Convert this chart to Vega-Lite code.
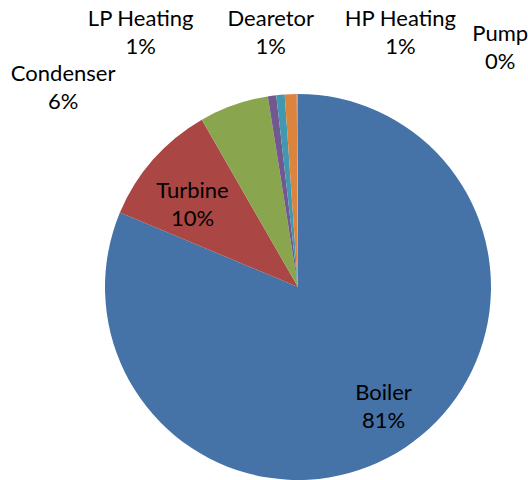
{
  "$schema": "https://vega.github.io/schema/vega-lite/v6.json",
  "width": 460,
  "height": 386,
  "autosize": "none",
  "padding": {"left": 68, "top": 94, "right": 0, "bottom": 0},
  "background": "white",
  "config": {"view": {"stroke": null}, "text": {"font": "Lato", "fontSize": 22, "lineBreak": "\n", "lineHeight": 28, "align": "center", "baseline": "middle", "color": "#000000"}},
  "data": {
    "values": [
      {"category": "Boiler", "share": 81.3, "seriesOrder": 1, "label": "Boiler\n81%"},
      {"category": "Turbine", "share": 10.4, "seriesOrder": 2, "label": "Turbine\n10%"},
      {"category": "Condenser", "share": 5.8, "seriesOrder": 3, "label": "Condenser\n6%"},
      {"category": "LP Heating", "share": 0.7, "seriesOrder": 4, "label": "LP Heating\n1%"},
      {"category": "Dearetor", "share": 0.7, "seriesOrder": 5, "label": "Dearetor\n1%"},
      {"category": "HP Heating", "share": 1.0, "seriesOrder": 6, "label": "HP Heating\n1%"},
      {"category": "Pump", "share": 0.1, "seriesOrder": 7, "label": "Pump\n0%"}
    ]
  },
  "encoding": {
    "theta": {"field": "share", "type": "quantitative", "stack": true},
    "order": {"field": "seriesOrder", "type": "quantitative", "sort": "ascending"}
  },
  "layer": [
    {
      "mark": {"type": "arc"},
      "encoding": {
        "color": {
          "field": "category",
          "type": "nominal",
          "legend": null,
          "scale": {
            "domain": ["Boiler", "Turbine", "Condenser", "LP Heating", "Dearetor", "HP Heating", "Pump"],
            "range": ["#4572A7", "#AA4643", "#89A54E", "#71588F", "#4198AF", "#DB843D", "#93A9CF"]
          }
        }
      }
    },
    {
      "mark": {"type": "text", "radius": 147, "dx": 4, "dy": -16},
      "encoding": {"text": {"condition": {"test": "datum.category === 'Boiler'", "field": "label"}, "value": ""}}
    },
    {
      "mark": {"type": "text", "radius": 134, "dx": -5, "dy": -7},
      "encoding": {"text": {"condition": {"test": "datum.category === 'Turbine'", "field": "label"}, "value": ""}}
    },
    {
      "mark": {"type": "text", "radius": 255, "dx": -150, "dy": 27},
      "encoding": {"text": {"condition": {"test": "datum.category === 'Condenser'", "field": "label"}, "value": ""}}
    },
    {
      "mark": {"type": "text", "radius": 255, "dx": -123, "dy": -15},
      "encoding": {"text": {"condition": {"test": "datum.category === 'LP Heating'", "field": "label"}, "value": ""}}
    },
    {
      "mark": {"type": "text", "radius": 255, "dx": -4, "dy": -14},
      "encoding": {"text": {"condition": {"test": "datum.category === 'Dearetor'", "field": "label"}, "value": ""}}
    },
    {
      "mark": {"type": "text", "radius": 255, "dx": 112, "dy": -13},
      "encoding": {"text": {"condition": {"test": "datum.category === 'HP Heating'", "field": "label"}, "value": ""}}
    },
    {
      "mark": {"type": "text", "radius": 255, "dx": 203, "dy": 2},
      "encoding": {"text": {"condition": {"test": "datum.category === 'Pump'", "field": "label"}, "value": ""}}
    }
  ]
}
